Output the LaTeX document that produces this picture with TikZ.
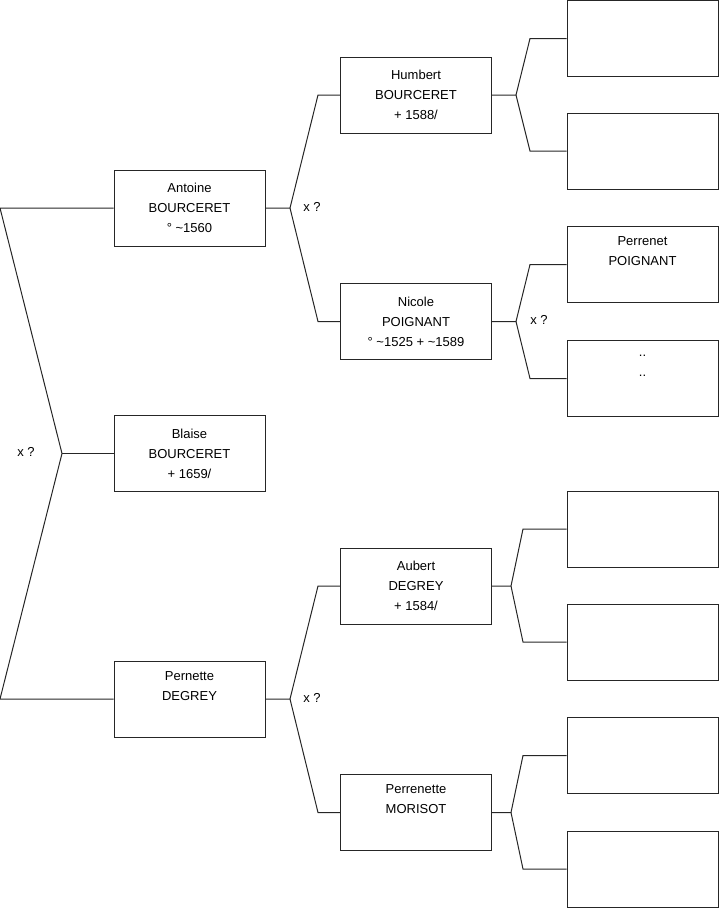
\documentclass[tikz,border=0pt]{standalone}
\usepackage{fontspec}
\setmainfont{Liberation Sans}
\begin{document}
\begin{tikzpicture}[x=1pt,y=-1pt,
	pbox/.style={draw=black!85, line width=1pt, minimum width=151pt, minimum height=76pt, inner sep=0pt, align=center, font=\fontsize{13}{20}\selectfont},
	lien/.style={draw=black!85, line width=1pt},
	xq/.style={font=\fontsize{13}{15}\selectfont}]
	\useasboundingbox (0,0) rectangle (719,908);
	%generation 1
	\node[pbox] (antoine) at (189.5,208) {Antoine\\BOURCERET\\\textdegree{} \textasciitilde1560};
	\node[pbox] (blaise) at (189.5,453.5) {Blaise\\BOURCERET\\+ 1659/};
	\node[pbox] (pernette) at (189.5,699) {Pernette\\DEGREY\\\strut};
	%generation 2
	\node[pbox] (humbert) at (416,95) {Humbert\\BOURCERET\\+ 1588/};
	\node[pbox] (nicole) at (416,321.5) {Nicole\\POIGNANT\\\textdegree{} \textasciitilde1525 + \textasciitilde1589};
	\node[pbox] (aubert) at (416,586) {Aubert\\DEGREY\\+ 1584/};
	\node[pbox] (perrenette) at (416,812.5) {Perrenette\\MORISOT\\\strut};
	%generation 3
	\node[pbox] (h1) at (642.5,38.5) {};
	\node[pbox] (h2) at (642.5,151) {};
	\node[pbox] (perrenet) at (642.5,264.5) {Perrenet\\POIGNANT\\\strut};
	\node[pbox] (n2) at (642.5,378.5) {..\\..\\\strut};
	\node[pbox] (a1) at (642.5,529) {};
	\node[pbox] (a2) at (642.5,642) {};
	\node[pbox] (m1) at (642.5,755.5) {};
	\node[pbox] (m2) at (642.5,869) {};
	%fourches
	\coordinate (froot) at (62,453.5);
	\coordinate (fa) at (290,208);
	\coordinate (fp) at (290,699);
	\coordinate (fh) at (516,95);
	\coordinate (fn) at (516,321.5);
	\coordinate (fau) at (511,586);
	\coordinate (fm) at (511,812.5);
	\draw[lien] (antoine.west) -- (0,208) -- (froot) -- (0,699) -- (pernette.west);
	\draw[lien] (froot) -- (blaise.west);
	\draw[lien] (antoine.east) -- (fa) -- ++(28,-113) -- (humbert.west);
	\draw[lien] (fa) -- ++(28,113.5) -- (nicole.west);
	\draw[lien] (pernette.east) -- (fp) -- ++(28,-113) -- (aubert.west);
	\draw[lien] (fp) -- ++(28,113.5) -- (perrenette.west);
	\draw[lien] (humbert.east) -- (fh) -- ++(14,-56.5) -- (h1.west);
	\draw[lien] (fh) -- ++(14,56) -- (h2.west);
	\draw[lien] (nicole.east) -- (fn) -- ++(14,-57) -- (perrenet.west);
	\draw[lien] (fn) -- ++(14,57) -- (n2.west);
	\draw[lien] (aubert.east) -- (fau) -- ++(12,-57) -- (a1.west);
	\draw[lien] (fau) -- ++(12,56) -- (a2.west);
	\draw[lien] (perrenette.east) -- (fm) -- ++(12,-57) -- (m1.west);
	\draw[lien] (fm) -- ++(12,56.5) -- (m2.west);
	%x ?
	\node[xq] (xroot) at (26,451.5) {x ?};
	\node[xq] (xa) at (312,207) {x ?};
	\node[xq] (xn) at (539,320) {x ?};
	\node[xq] (xp) at (312,697.5) {x ?};
\end{tikzpicture}
\end{document}
